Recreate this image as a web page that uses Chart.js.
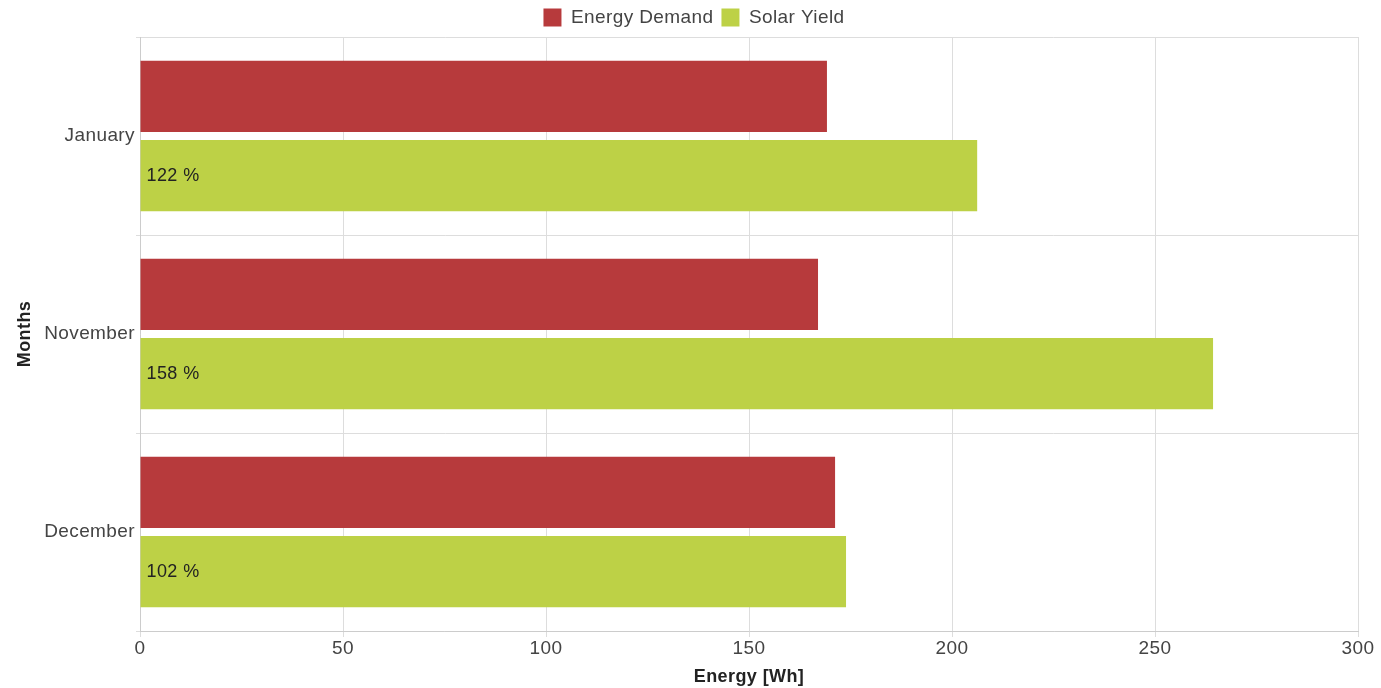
<!DOCTYPE html>
<html>
<head>
<meta charset="utf-8">
<script src="https://cdn.jsdelivr.net/npm/chart.js@4/dist/chart.umd.min.js"></script>
<style>
html,body{margin:0;padding:0;background:#fff;}
#wrap{width:1381px;height:688px;position:relative;}
</style>
</head>
<body>
<div id="wrap"><canvas id="c"></canvas></div>
<script>
const months = ["January", "November", "December"];
const energyDemand = [169.2, 167.0, 171.2];
const solarYield = [206.2, 264.3, 173.9];
const xTicks = [0, 50, 100, 150, 200, 250, 300];

const LS = '0.4px';
const spacingPlugin = {
  id: 'spacing',
  beforeInit(chart) { chart.ctx.letterSpacing = LS; },
  beforeUpdate(chart) { chart.ctx.letterSpacing = LS; },
  afterLayout(chart) {
    if (chart.legend) { chart.legend.left += 15; chart.legend.right += 15; }
  },
  beforeDraw(chart) { chart.ctx.letterSpacing = LS; }
};

const pctPlugin = {
  id: 'pctLabels',
  afterDatasetsDraw(chart) {
    const ctx = chart.ctx;
    const meta = chart.getDatasetMeta(1);
    ctx.save();
    ctx.font = '18px "Liberation Sans", Arial, sans-serif';
    ctx.fillStyle = '#222';
    ctx.textAlign = 'left';
    ctx.textBaseline = 'middle';
    meta.data.forEach((bar, i) => {
      const pct = Math.round(solarYield[i] / energyDemand[i] * 100);
      ctx.fillText(pct + ' %', bar.base + 6, bar.y);
    });
    ctx.restore();
  }
};

Chart.defaults.font.family = '"Liberation Sans", Arial, sans-serif';
Chart.defaults.font.size = 19;
Chart.defaults.color = '#444';

new Chart(document.getElementById('c'), {
  type: 'bar',
  data: {
    labels: months,
    datasets: [
      { label: 'Energy Demand', data: energyDemand, backgroundColor: '#b73a3c', borderWidth: 0,
        categoryPercentage: 0.8, barPercentage: 0.9 },
      { label: 'Solar Yield', data: solarYield, backgroundColor: '#bdd146', borderWidth: 0,
        categoryPercentage: 0.8, barPercentage: 0.9 }
    ]
  },
  options: {
    indexAxis: 'y',
    responsive: true,
    maintainAspectRatio: false,
    animation: false,
    layout: { padding: { left: 0, right: 23, top: 0, bottom: 0 } },
    plugins: {
      legend: {
        position: 'top',
        labels: { boxWidth: 18, boxHeight: 18, padding: 8, color: '#444', font: { size: 19 } }
      },
      tooltip: { enabled: false }
    },
    scales: {
      x: {
        min: 0, max: 300,
        afterBuildTicks(axis) { axis.ticks = xTicks.map(v => ({ value: v })); },
        afterFit(axis) { axis.height = 57; },
        grid: { color: '#dddddd', tickLength: 6 },
        border: { color: '#cccccc' },
        ticks: { color: '#444', font: { size: 19 }, padding: 0 },
        title: { display: true, text: 'Energy [Wh]', color: '#222', font: { size: 18, weight: 'bold' }, padding: { top: 3, bottom: 0 } }
      },
      y: {
        afterFit(axis) { axis.width = 140; },
        grid: { color: '#dddddd', tickLength: 4 },
        border: { color: '#cccccc' },
        ticks: { color: '#444', font: { size: 19 }, padding: 1 },
        title: { display: true, text: 'Months', color: '#222', font: { size: 18, weight: 'bold' }, padding: { top: 14, bottom: 0 } }
      }
    }
  },
  plugins: [spacingPlugin, pctPlugin]
});
</script>
</body>
</html>
